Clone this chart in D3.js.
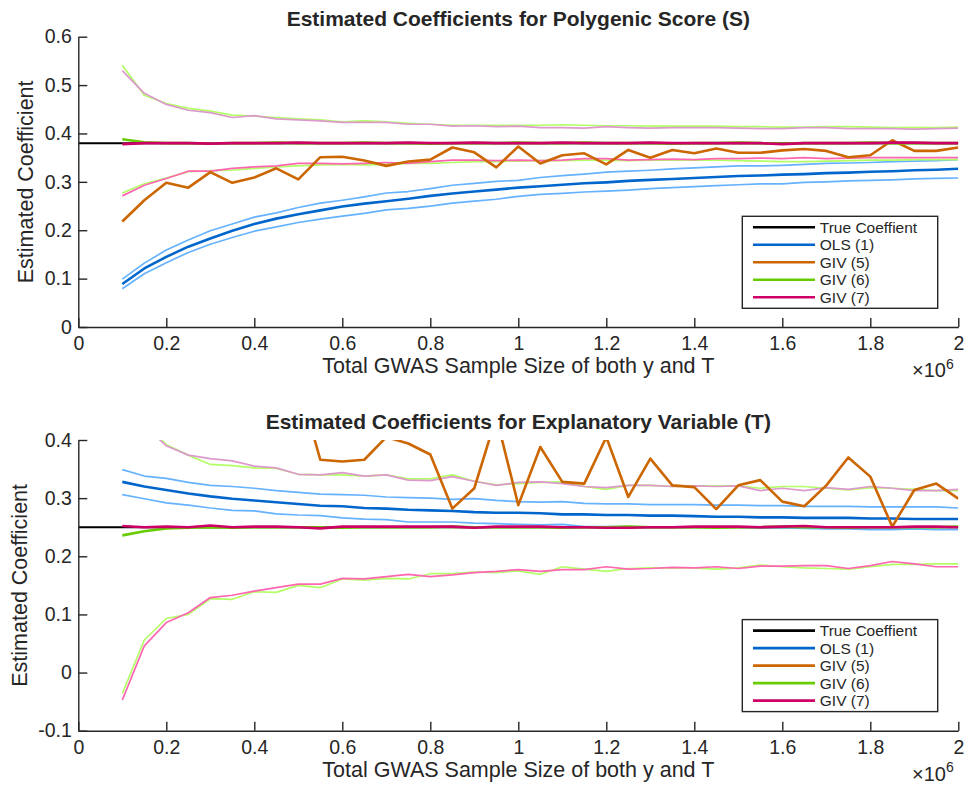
<!DOCTYPE html>
<html>
<head>
<meta charset="utf-8">
<script src="https://cdn.jsdelivr.net/npm/d3@7"></script>
<style>
  body { margin: 0; background: #fff; }
  svg text { font-family: "Liberation Sans", Arial, Helvetica, sans-serif; fill: #262626; }
</style>
</head>
<body>
<div id="chart"></div>
<script>
// SAMPLE SIZES (x 10^6)
var sampleSize = [0.1,0.15,0.2,0.25,0.3,0.35,0.4,0.45,0.5,0.55,0.6,0.65,0.7,0.75,0.8,0.85,0.9,0.95,1.0,
  1.05,1.1,1.15,1.2,1.25,1.3,1.35,1.4,1.45,1.5,1.55,1.6,1.65,1.7,1.75,1.8,1.85,1.9,1.95,2.0];
var xTicks = [0,0.2,0.4,0.6,0.8,1,1.2,1.4,1.6,1.8,2];
var legendNames = ["True Coeffient","OLS (1)","GIV (5)","GIV (6)","GIV (7)"];

// PANEL 1 - Polygenic score (S)
var trueS = 0.38;
var olsS = [0.089,0.121,0.145,0.166,0.183,0.199,0.213,0.224,0.233,0.241,0.249,0.255,0.260,0.265,0.271,0.276,0.280,0.284,0.288,
  0.291,0.294,0.297,0.299,0.302,0.304,0.306,0.308,0.310,0.312,0.313,0.315,0.316,0.318,0.319,0.321,0.322,0.324,0.325,0.327];
var olsSHi = [0.099,0.132,0.159,0.180,0.199,0.213,0.227,0.236,0.247,0.256,0.262,0.269,0.277,0.280,0.286,0.293,0.297,0.301,0.303,
  0.309,0.313,0.316,0.320,0.322,0.324,0.327,0.329,0.331,0.333,0.333,0.334,0.336,0.338,0.339,0.340,0.342,0.343,0.344,0.346];
var olsSLo = [0.079,0.110,0.133,0.154,0.171,0.185,0.198,0.207,0.216,0.223,0.229,0.235,0.242,0.245,0.250,0.256,0.260,0.264,0.270,
  0.274,0.276,0.279,0.281,0.283,0.286,0.288,0.290,0.292,0.294,0.296,0.296,0.299,0.300,0.302,0.303,0.304,0.306,0.307,0.308];
var giv5S = [0.218,0.262,0.298,0.288,0.320,0.298,0.309,0.328,0.305,0.351,0.352,0.344,0.333,0.342,0.346,0.371,0.361,0.330,0.373,
  0.338,0.355,0.359,0.336,0.366,0.350,0.366,0.359,0.369,0.360,0.360,0.365,0.368,0.364,0.351,0.355,0.386,0.364,0.364,0.371];
var giv6S = [0.388,0.382,0.380,0.380,0.379,0.380,0.380,0.381,0.380,0.380,0.380,0.381,0.380,0.380,0.379,0.380,0.380,0.380,0.381,
  0.380,0.380,0.381,0.380,0.380,0.380,0.379,0.380,0.380,0.381,0.380,0.379,0.380,0.380,0.380,0.381,0.380,0.380,0.380,0.380];
var giv6SHi = [0.541,0.479,0.462,0.452,0.446,0.438,0.436,0.433,0.430,0.428,0.424,0.426,0.424,0.421,0.419,0.417,0.417,0.417,0.417,
  0.417,0.418,0.417,0.416,0.416,0.415,0.415,0.415,0.415,0.414,0.414,0.413,0.413,0.414,0.414,0.413,0.412,0.412,0.412,0.413];
var giv6SLo = [0.277,0.296,0.308,0.321,0.323,0.324,0.328,0.331,0.333,0.335,0.336,0.335,0.336,0.338,0.338,0.340,0.342,0.342,0.343,
  0.344,0.344,0.345,0.345,0.344,0.345,0.345,0.345,0.345,0.344,0.343,0.342,0.342,0.343,0.344,0.345,0.345,0.346,0.346,0.346];
var giv7S = [0.378,0.380,0.380,0.380,0.379,0.380,0.380,0.380,0.381,0.380,0.380,0.380,0.380,0.381,0.380,0.380,0.381,0.380,0.380,
  0.380,0.381,0.380,0.380,0.380,0.381,0.380,0.380,0.380,0.380,0.380,0.378,0.380,0.380,0.380,0.380,0.381,0.381,0.380,0.380];
var giv7SHi = [0.530,0.483,0.460,0.448,0.443,0.433,0.437,0.430,0.428,0.426,0.423,0.423,0.423,0.419,0.419,0.415,0.416,0.414,0.415,
  0.412,0.412,0.411,0.414,0.412,0.411,0.412,0.412,0.412,0.411,0.410,0.410,0.412,0.412,0.410,0.410,0.410,0.409,0.410,0.411];
var giv7SLo = [0.271,0.293,0.307,0.322,0.322,0.328,0.331,0.333,0.338,0.338,0.337,0.338,0.340,0.338,0.342,0.345,0.345,0.344,0.345,
  0.344,0.345,0.348,0.348,0.345,0.346,0.347,0.346,0.348,0.348,0.349,0.348,0.350,0.348,0.349,0.350,0.350,0.350,0.350,0.350];

// PANEL 2 - Explanatory variable (T)
var trueT = 0.25;
var olsT = [0.328,0.320,0.314,0.308,0.303,0.299,0.296,0.293,0.290,0.287,0.286,0.283,0.282,0.280,0.279,0.278,0.276,0.275,0.275,
  0.274,0.272,0.272,0.271,0.271,0.270,0.270,0.269,0.268,0.268,0.267,0.267,0.266,0.266,0.266,0.265,0.265,0.264,0.264,0.264];
var olsTHi = [0.349,0.338,0.334,0.327,0.322,0.320,0.317,0.313,0.310,0.307,0.306,0.305,0.302,0.301,0.300,0.298,0.299,0.296,0.294,
  0.293,0.294,0.291,0.290,0.290,0.289,0.289,0.289,0.288,0.288,0.287,0.287,0.286,0.286,0.286,0.285,0.285,0.285,0.285,0.283];
var olsTLo = [0.306,0.299,0.292,0.288,0.283,0.279,0.278,0.273,0.271,0.270,0.266,0.264,0.263,0.259,0.259,0.259,0.257,0.256,0.255,
  0.254,0.255,0.251,0.251,0.251,0.250,0.250,0.250,0.250,0.250,0.249,0.249,0.248,0.247,0.247,0.246,0.246,0.247,0.246,0.246];
var giv5T = [0.85,0.62,0.54,0.70,0.49,0.58,0.46,0.53,0.50,0.366,0.363,0.366,0.405,0.394,0.375,0.282,0.317,0.440,0.288,
  0.388,0.328,0.325,0.405,0.302,0.368,0.322,0.319,0.281,0.322,0.331,0.294,0.286,0.322,0.370,0.337,0.251,0.314,0.325,0.299];
var giv6T = [0.236,0.243,0.248,0.249,0.250,0.249,0.250,0.250,0.250,0.250,0.249,0.250,0.250,0.250,0.250,0.251,0.250,0.250,0.250,
  0.250,0.249,0.250,0.250,0.251,0.250,0.250,0.250,0.249,0.250,0.250,0.251,0.250,0.250,0.249,0.250,0.250,0.250,0.250,0.251];
var giv6THi = [0.52,0.43,0.392,0.374,0.358,0.356,0.352,0.351,0.341,0.340,0.340,0.338,0.340,0.333,0.333,0.340,0.329,0.323,0.325,
  0.327,0.328,0.320,0.315,0.322,0.322,0.320,0.321,0.321,0.321,0.317,0.320,0.320,0.317,0.314,0.318,0.317,0.315,0.313,0.313];
var giv6TLo = [-0.036,0.056,0.093,0.100,0.127,0.126,0.139,0.138,0.150,0.146,0.161,0.159,0.162,0.161,0.170,0.170,0.173,0.172,0.175,
  0.169,0.182,0.178,0.174,0.179,0.180,0.180,0.180,0.178,0.180,0.185,0.182,0.180,0.179,0.178,0.182,0.186,0.186,0.187,0.187];
var giv7T = [0.252,0.250,0.251,0.250,0.253,0.250,0.251,0.251,0.250,0.248,0.251,0.251,0.251,0.251,0.251,0.251,0.249,0.251,0.251,
  0.251,0.250,0.250,0.249,0.249,0.250,0.250,0.251,0.251,0.251,0.250,0.251,0.252,0.250,0.250,0.250,0.250,0.251,0.251,0.250];
var giv7THi = [0.50,0.425,0.390,0.374,0.368,0.364,0.355,0.352,0.341,0.340,0.344,0.338,0.340,0.331,0.330,0.337,0.329,0.322,0.327,
  0.328,0.325,0.320,0.318,0.322,0.322,0.320,0.321,0.320,0.321,0.313,0.317,0.313,0.318,0.315,0.320,0.317,0.313,0.313,0.315];
var giv7TLo = [-0.047,0.046,0.086,0.103,0.129,0.133,0.140,0.146,0.152,0.152,0.162,0.161,0.165,0.169,0.165,0.168,0.172,0.174,0.177,
  0.174,0.177,0.177,0.182,0.178,0.179,0.181,0.180,0.182,0.179,0.183,0.183,0.184,0.184,0.179,0.184,0.191,0.187,0.182,0.182];

// COLORS
var cTrue = "#000000", cOls = "#0066CC", cOlsBand = "#66B2FF", cGiv5 = "#CC6600",
    cGiv6 = "#66CC00", cGiv6Band = "#B2FF66", cGiv7 = "#CC0066", cGiv7Lo = "#FF66B2", cGiv7Hi = "#DD99CC";
var axisColor = "#262626";

var width = 967, height = 785;
var svg = d3.select("#chart").append("svg")
  .attr("width", width)
  .attr("height", height);

var panels = [
  { title: "Estimated Coefficients for Polygenic Score (S)", top: 36.7, bottom: 327, yDomain: [0, 0.6],
    yTicks: [0,0.1,0.2,0.3,0.4,0.5,0.6], yLabelX: 33, trueVal: trueS,
    bands: [[olsSHi, cOlsBand], [olsSLo, cOlsBand], [giv6SHi, cGiv6Band], [giv6SLo, cGiv6Band], [giv7SHi, cGiv7Hi], [giv7SLo, cGiv7Lo]],
    mains: [[olsS, cOls], [giv5S, cGiv5], [giv6S, cGiv6], [giv7S, cGiv7]] },
  { title: "Estimated Coefficients for Explanatory Variable (T)", top: 440, bottom: 730.7, yDomain: [-0.1, 0.4],
    yTicks: [-0.1,0,0.1,0.2,0.3,0.4], yLabelX: 26.5, trueVal: trueT,
    bands: [[olsTHi, cOlsBand], [olsTLo, cOlsBand], [giv6THi, cGiv6Band], [giv6TLo, cGiv6Band], [giv7THi, cGiv7Hi], [giv7TLo, cGiv7Lo]],
    mains: [[olsT, cOls], [giv5T, cGiv5], [giv6T, cGiv6], [giv7T, cGiv7]] }
];

var left = 78.3, right = 958.3;
var x = d3.scaleLinear().domain([0, 2]).range([left, right]);

function fmt(d) { return String(+d.toFixed(1)); }

panels.forEach(function (p, i) {
  var y = d3.scaleLinear().domain(p.yDomain).range([p.bottom, p.top]);
  var g = svg.append("g");

  var clipId = "clip" + i;
  g.append("clipPath").attr("id", clipId)
    .append("rect")
    .attr("x", left).attr("y", p.top)
    .attr("width", right - left).attr("height", p.bottom - p.top);

  var line = d3.line()
    .x(function (d, k) { return x(sampleSize[k]); })
    .y(function (d) { return y(d); });

  var lines = g.append("g").attr("clip-path", "url(#" + clipId + ")");

  // true coefficient
  lines.append("line")
    .attr("x1", x(0)).attr("x2", x(2))
    .attr("y1", y(p.trueVal)).attr("y2", y(p.trueVal))
    .attr("stroke", cTrue).attr("stroke-width", 2);

  p.bands.forEach(function (b) {
    lines.append("path").datum(b[0])
      .attr("d", line)
      .attr("fill", "none")
      .attr("stroke", b[1])
      .attr("stroke-width", 1.7)
      .attr("stroke-linejoin", "round");
  });
  p.mains.forEach(function (m) {
    lines.append("path").datum(m[0])
      .attr("d", line)
      .attr("fill", "none")
      .attr("stroke", m[1])
      .attr("stroke-width", 2.6)
      .attr("stroke-linejoin", "round");
  });

  // AXES
  var xAxis = d3.axisBottom(x).tickValues(xTicks).tickFormat(fmt)
    .tickSizeInner(-9).tickSizeOuter(0).tickPadding(9);
  var yAxis = d3.axisLeft(y).tickValues(p.yTicks).tickFormat(fmt)
    .tickSizeInner(-9).tickSizeOuter(0).tickPadding(6.5);

  var gx = g.append("g").attr("transform", "translate(0," + p.bottom + ")").call(xAxis);
  var gy = g.append("g").attr("transform", "translate(" + left + ",0)").call(yAxis);
  [gx, gy].forEach(function (a) {
    a.select(".domain").attr("stroke", axisColor).attr("stroke-width", 1.4);
    a.selectAll(".tick line").attr("stroke", axisColor).attr("stroke-width", 1.4);
    a.selectAll(".tick text").style("font-size", "19.5px").attr("fill", axisColor)
      .style("font-family", "'Liberation Sans', Arial, sans-serif");
  });

  // TEXTS
  g.append("text")
    .attr("x", (left + right) / 2).attr("y", p.top - 10.7)
    .attr("text-anchor", "middle")
    .style("font-size", "21px").style("font-weight", "bold")
    .attr("fill", "#000")
    .text(p.title);

  g.append("text")
    .attr("x", (left + right) / 2).attr("y", p.bottom + 46)
    .attr("text-anchor", "middle")
    .style("font-size", "21.5px")
    .text("Total GWAS Sample Size of both y and T");

  g.append("text")
    .attr("transform", "translate(" + p.yLabelX + "," + ((p.top + p.bottom) / 2) + ") rotate(-90)")
    .attr("text-anchor", "middle")
    .style("font-size", "21.5px")
    .text("Estimated Coefficient");

  var mult = g.append("text")
    .attr("x", 912).attr("y", p.bottom + 50)
    .style("font-size", "20px");
  mult.append("tspan").text("\u00d710");
  mult.append("tspan").attr("dy", -8.5).style("font-size", "14px").text("6");

  // LEGEND
  var lg = g.append("g").attr("transform", "translate(742.3," + (p.top + 179.6) + ")");
  lg.append("rect")
    .attr("width", 195.4).attr("height", 92)
    .attr("fill", "#fff")
    .attr("stroke", axisColor).attr("stroke-width", 1.4);
  var legendColors = [cTrue, cOls, cGiv5, cGiv6, cGiv7];
  legendNames.forEach(function (name, k) {
    var ry = 11 + k * 17.5;
    lg.append("line")
      .attr("x1", 10.7).attr("x2", 72.7)
      .attr("y1", ry).attr("y2", ry)
      .attr("stroke", legendColors[k]).attr("stroke-width", 2.6);
    lg.append("text")
      .attr("x", 77.5).attr("y", ry).attr("dy", "0.36em")
      .style("font-size", "15.5px").attr("fill", "#000")
      .text(name);
  });
});
</script>
</body>
</html>
